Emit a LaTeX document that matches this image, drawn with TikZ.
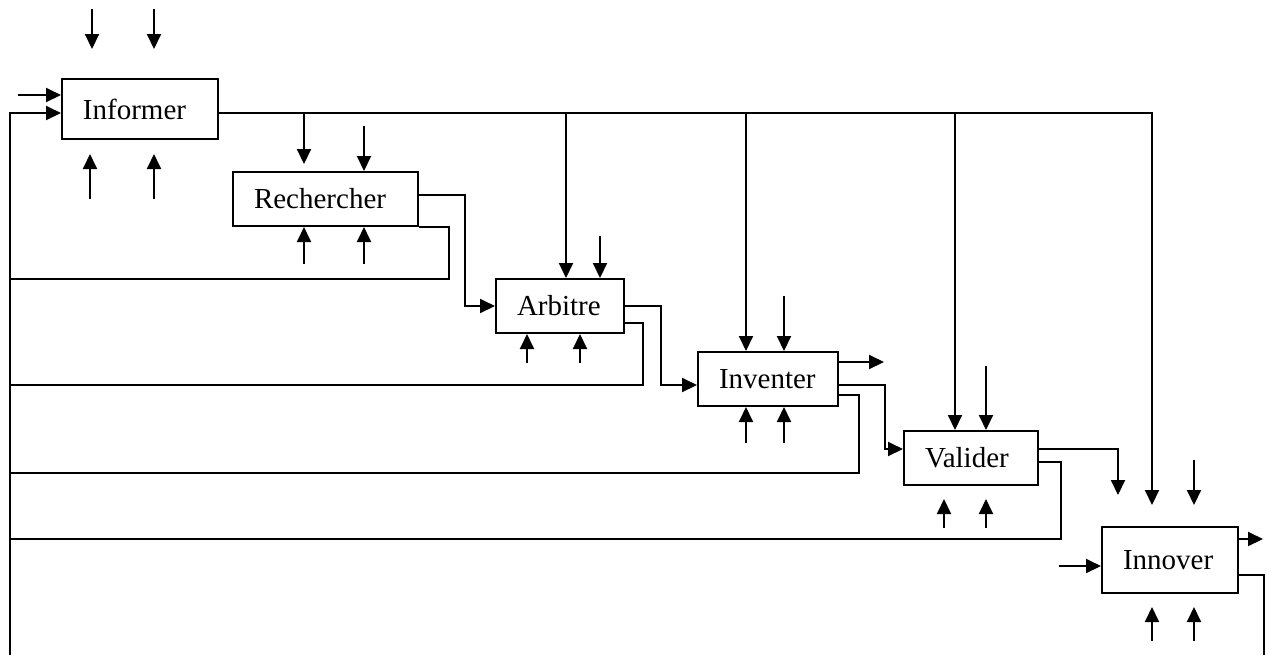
\documentclass[tikz,border=0pt]{standalone}
\usepackage{fontspec}
\setmainfont{Liberation Serif}
\usetikzlibrary{arrows.meta}

\begin{document}
\begin{tikzpicture}[x=0.5pt,y=-0.5pt,line width=1pt]
  \tikzstyle{box}=[draw,inner xsep=10.5pt,inner ysep=0pt,align=left,font=\fontsize{14.5}{17}\selectfont]
  \tikzstyle{arr}=[-{Triangle[length=7.5pt,width=7pt]}]
  \useasboundingbox (0,0) rectangle (1266,655);
  % activity boxes
  \node[box,text width=57pt,minimum height=30pt] (inf) at (140,109) {Informer};
  \node[box,text width=71.5pt,minimum height=27pt] (rech) at (325.5,199) {Rechercher};
  \node[box,text width=43pt,minimum height=27pt] (arb) at (560,306) {Arbitre};
  \node[box,text width=49pt,minimum height=27pt] (inv) at (768,379) {Inventer};
  \node[box,text width=46pt,minimum height=27pt] (val) at (971,458) {Valider};
  \node[box,text width=47pt,minimum height=33pt] (inn) at (1170,560) {Innover};
  % return line on the left
  \coordinate (t0) at (10,655);
  \coordinate (t1) at (10,279);
  \coordinate (t2) at (10,385);
  \coordinate (t3) at (10,473);
  \coordinate (t4) at (10,539);
  \draw[arr] (t0) |- ([shift={(0,4)}]inf.west);
  \draw[arr] ([shift={(-43,-14)}]inf.west) -- ([shift={(0,-14)}]inf.west);
  % main output of Informer
  \draw[arr] ([shift={(0,4)}]inf.east) -| ([shift={(-18,-21)}]inn.north);
  % arrows from above
  \foreach \b/\dx/\ya/\yb in {inf/-48/-69/-29,inf/14/-69/-29,rech/-21.5/-59/-7,rech/38.5/-45/0,
      arb/6/-166/0,arb/40/-42/0,inv/-22/-239/0,inv/16/-55/0,val/-16/-318/0,val/15/-64/0,inn/24/-66/-21}
    \draw[arr] ([shift={(\dx,\ya)}]\b.north) -- ([shift={(\dx,\yb)}]\b.north);
  % arrows from below
  \foreach \b/\dx/\ya/\yb in {inf/-50/59/14,inf/14/59/14,rech/-21.5/37/0,rech/38.5/37/0,
      arb/-33/29/0,arb/20/29/0,inv/-22/36/0,inv/16/36/0,val/-27/42/13,val/15/42/13,inn/-18/47/13,inn/24/47/13}
    \draw[arr] ([shift={(\dx,\ya)}]\b.south) -- ([shift={(\dx,\yb)}]\b.south);
  % forward links
  \draw[arr] ([shift={(0,-4)}]rech.east) -- ++(46,0) |- (arb.west);
  \draw[arr] (arb.east) -- ++(36,0) |- ([shift={(0,6)}]inv.west);
  \draw[arr] ([shift={(0,6)}]inv.east) -- ++(46,0) |- ([shift={(0,-9)}]val.west);
  \draw[arr] ([shift={(0,-9)}]val.east) -| ([shift={(-52,-31)}]inn.north);
  \draw[arr] ([shift={(0,-17)}]inv.east) -- ++(45,0);
  \draw[arr] ([shift={(0,-21)}]inn.east) -- ++(24,0);
  \draw[arr] ([shift={(-42,6)}]inn.west) -- ([shift={(0,6)}]inn.west);
  \draw ([shift={(0,15)}]inn.east) -- ++(25,0) -- ++(0,80);
  % feedback links
  \draw (rech.south east) -- ++(30,0) |- (t1);
  \draw ([shift={(0,17)}]arb.east) -- ++(18,0) |- (t2);
  \draw ([shift={(0,16)}]inv.east) -- ++(20,0) |- (t3);
  \draw ([shift={(0,4)}]val.east) -- ++(22,0) |- (t4);
\end{tikzpicture}
\end{document}
